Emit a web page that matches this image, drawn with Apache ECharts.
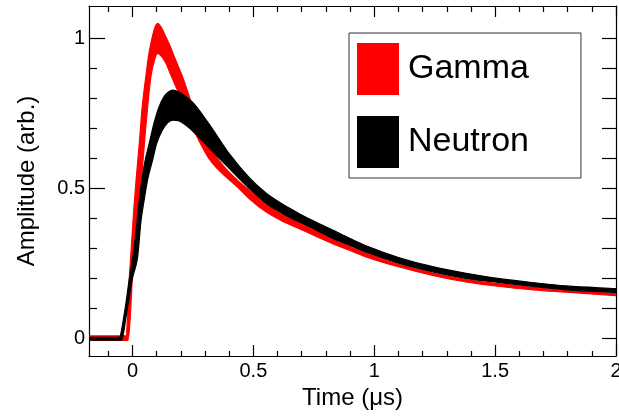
<!DOCTYPE html>
<html><head><meta charset="utf-8">
<script src="https://cdn.jsdelivr.net/npm/echarts@6/dist/echarts.min.js"></script>
<style>html,body{margin:0;padding:0;background:#fff}#c{width:619px;height:416px}</style>
</head><body><div id="c"></div><script>
// ---- data (time in microseconds, amplitude arbitrary) ----
const gammaUpperT = [-0.18, -0.027, -0.014, 0.004, 0.014, 0.028, 0.04, 0.055, 0.066, 0.076, 0.09, 0.104, 0.12, 0.138, 0.155, 0.173, 0.19, 0.207, 0.235, 0.262, 0.29, 0.33, 0.386, 0.434, 0.483, 0.552, 0.62, 0.69, 0.76, 0.828, 0.9, 0.966, 1.104, 1.242, 1.38, 1.518, 1.656, 1.794, 2.0];
const gammaUpperV = [0.007, 0.007, 0.19, 0.415, 0.52, 0.649, 0.77, 0.872, 0.94, 0.983, 1.03, 1.05, 1.035, 1.005, 0.975, 0.939, 0.905, 0.872, 0.805, 0.74, 0.685, 0.625, 0.565, 0.527, 0.493, 0.446, 0.412, 0.384, 0.356, 0.329, 0.305, 0.284, 0.245, 0.217, 0.195, 0.181, 0.169, 0.158, 0.149];
const gammaLowerT = [-0.18, -0.018, 0.003, 0.021, 0.04, 0.055, 0.066, 0.076, 0.09, 0.104, 0.12, 0.138, 0.16, 0.18, 0.2, 0.221, 0.24, 0.262, 0.29, 0.317, 0.35, 0.386, 0.434, 0.483, 0.552, 0.62, 0.69, 0.76, 0.828, 0.9, 0.966, 1.104, 1.242, 1.38, 1.518, 1.656, 1.794, 2.0];
const gammaLowerV = [-0.008, -0.008, 0.25, 0.42, 0.56, 0.705, 0.8, 0.872, 0.925, 0.95, 0.94, 0.917, 0.875, 0.838, 0.805, 0.772, 0.722, 0.68, 0.635, 0.598, 0.566, 0.538, 0.504, 0.465, 0.421, 0.39, 0.365, 0.339, 0.315, 0.292, 0.271, 0.237, 0.209, 0.187, 0.172, 0.161, 0.153, 0.141];

const neutronUpperT = [-0.18, -0.055, -0.034, -0.014, 0.007, 0.028, 0.048, 0.069, 0.09, 0.11, 0.13, 0.15, 0.166, 0.19, 0.221, 0.25, 0.276, 0.331, 0.40, 0.483, 0.552, 0.62, 0.69, 0.76, 0.828, 0.9, 0.966, 1.104, 1.242, 1.38, 1.518, 1.656, 1.794, 2.0];
const neutronUpperV = [0.002, 0.002, 0.081, 0.193, 0.304, 0.46, 0.575, 0.649, 0.72, 0.772, 0.805, 0.822, 0.827, 0.822, 0.805, 0.785, 0.76, 0.697, 0.615, 0.535, 0.484, 0.447, 0.415, 0.386, 0.36, 0.332, 0.308, 0.268, 0.238, 0.216, 0.198, 0.185, 0.174, 0.165];
const neutronLowerT = [-0.18, -0.045, -0.025, 0.0, 0.021, 0.035, 0.048, 0.062, 0.083, 0.1, 0.124, 0.145, 0.166, 0.19, 0.221, 0.255, 0.29, 0.359, 0.40, 0.483, 0.552, 0.62, 0.69, 0.76, 0.828, 0.9, 0.966, 1.104, 1.242, 1.38, 1.518, 1.656, 1.794, 2.0];
const neutronLowerV = [-0.007, -0.007, 0.08, 0.2, 0.27, 0.39, 0.46, 0.527, 0.594, 0.65, 0.694, 0.718, 0.727, 0.725, 0.71, 0.686, 0.657, 0.6, 0.566, 0.499, 0.45, 0.416, 0.387, 0.36, 0.332, 0.309, 0.287, 0.249, 0.221, 0.199, 0.185, 0.172, 0.161, 0.152];

const seriesNames = ['Gamma', 'Neutron'];
const xMajorTicks = [0, 0.5, 1, 1.5, 2];
const xMinorTicks = [-0.1, 0.1, 0.2, 0.3, 0.4, 0.6, 0.7, 0.8, 0.9, 1.1, 1.2, 1.3, 1.4, 1.6, 1.7, 1.8, 1.9];
const yMajorTicks = [0, 0.5, 1];
const yMinorTicks = [0.1, 0.2, 0.3, 0.4, 0.6, 0.7, 0.8, 0.9];
const yRightTicks = [0, 0.1, 0.2, 0.3, 0.4, 0.5, 0.6, 0.7, 0.8, 0.9, 1.0];

// ---- chart ----
const FONT = 'Liberation Sans, Arial, Helvetica, sans-serif';
const X_MIN = -0.18, X_MAX = 2, Y_MIN = -0.06, Y_MAX = 1.108;
const chart = echarts.init(document.getElementById('c'), null, {renderer: 'canvas'});

// monotone cubic (Fritsch-Carlson) bezier segments through pixel points with increasing x
function monoSegments(p) {
  const n = p.length, d = [], m = [];
  for (let i = 0; i < n - 1; i++) d.push((p[i + 1][1] - p[i][1]) / (p[i + 1][0] - p[i][0]));
  m[0] = d[0]; m[n - 1] = d[n - 2];
  for (let i = 1; i < n - 1; i++) m[i] = (d[i - 1] * d[i] <= 0) ? 0 : (d[i - 1] + d[i]) / 2;
  for (let i = 0; i < n - 1; i++) {
    if (d[i] === 0) { m[i] = 0; m[i + 1] = 0; continue; }
    const a = m[i] / d[i], b = m[i + 1] / d[i], s = a * a + b * b;
    if (s > 9) { const t = 3 / Math.sqrt(s); m[i] = t * a * d[i]; m[i + 1] = t * b * d[i]; }
  }
  const segs = [];
  for (let i = 0; i < n - 1; i++) {
    const h = (p[i + 1][0] - p[i][0]) / 3;
    segs.push([p[i], [p[i][0] + h, p[i][1] + m[i] * h], [p[i + 1][0] - h, p[i + 1][1] - m[i + 1] * h], p[i + 1]]);
  }
  return segs;
}
function f(v) { return v.toFixed(2); }
function band(upT, upV, loT, loV, color) {
  return function (params, api) {
    const up = upT.map((t, i) => api.coord([t, upV[i]]));
    const lo = loT.map((t, i) => api.coord([t, loV[i]]));
    const su = monoSegments(up), sl = monoSegments(lo);
    let d = 'M' + f(up[0][0]) + ',' + f(up[0][1]);
    su.forEach(s => { d += 'C' + f(s[1][0]) + ',' + f(s[1][1]) + ' ' + f(s[2][0]) + ',' + f(s[2][1]) + ' ' + f(s[3][0]) + ',' + f(s[3][1]); });
    const last = lo[lo.length - 1];
    d += 'L' + f(last[0]) + ',' + f(last[1]);
    for (let k = sl.length - 1; k >= 0; k--) {
      const s = sl[k];
      d += 'C' + f(s[2][0]) + ',' + f(s[2][1]) + ' ' + f(s[1][0]) + ',' + f(s[1][1]) + ' ' + f(s[0][0]) + ',' + f(s[0][1]);
    }
    d += 'Z';
    return {type: 'path', shape: {pathData: d, layout: 'cover'},
      style: {fill: color, stroke: color, lineWidth: 1.2, lineJoin: 'round'}};
  };
}

const lineStyle = {color: '#000', width: 1.2};
function xAx(pos, ticks, len, showLine, labels, extra) {
  return Object.assign({
    type: 'value', min: X_MIN, max: X_MAX, position: pos,
    axisLine: {show: showLine, onZero: false, lineStyle},
    axisTick: {show: true, inside: true, length: len, customValues: ticks, lineStyle},
    axisLabel: labels ? {show: true, customValues: ticks, fontSize: 20, color: '#000', fontFamily: FONT, margin: 5,
      showMinLabel: true, showMaxLabel: true, hideOverlap: false} : {show: false},
    splitLine: {show: false}
  }, extra || {});
}
function yAx(pos, ticks, len, showLine, labels, extra) {
  return Object.assign({
    type: 'value', min: Y_MIN, max: Y_MAX, position: pos,
    axisLine: {show: showLine, onZero: false, lineStyle},
    axisTick: {show: true, inside: true, length: len, customValues: ticks, lineStyle},
    axisLabel: labels ? {show: true, customValues: ticks, fontSize: 20, color: '#000', fontFamily: FONT, margin: 4} : {show: false},
    splitLine: {show: false}
  }, extra || {});
}

chart.setOption({
  animation: false,
  backgroundColor: '#fff',
  grid: {left: 89, right: 3, top: 6, bottom: 60, containLabel: false, outerBoundsMode: 'none'},
  xAxis: [
    xAx('bottom', xMajorTicks, 11, true, true, {name: 'Time (\u03bcs)', nameLocation: 'middle', nameGap: 27,
      nameTextStyle: {fontSize: 24, color: '#000', fontFamily: FONT}}),
    xAx('bottom', xMinorTicks, 5, false, false),
    xAx('top', xMajorTicks, 11, true, false),
    xAx('top', xMinorTicks, 6, false, false)
  ],
  yAxis: [
    yAx('left', yMajorTicks, 16, true, true, {name: 'Amplitude (arb.)', nameLocation: 'middle', nameGap: 50, nameRotate: 90,
      nameTextStyle: {fontSize: 24, color: '#000', fontFamily: FONT}}),
    yAx('left', yMinorTicks, 8, false, false),
    yAx('right', yRightTicks, 14, true, false)
  ],
  legend: {
    orient: 'vertical', left: 349, top: 33,
    padding: [10, 52, 10, 8],
    itemWidth: 42, itemHeight: 52, itemGap: 21,
    borderColor: '#333', borderWidth: 1, backgroundColor: '#fff',
    textStyle: {fontSize: 34, color: '#000', fontFamily: FONT, padding: [0, 0, 0, 4]},
    data: [
      {name: seriesNames[0], icon: 'rect', itemStyle: {color: '#ff0000', borderWidth: 0}},
      {name: seriesNames[1], icon: 'rect', itemStyle: {color: '#000000', borderWidth: 0}}
    ],
    selectedMode: false
  },
  series: [
    {type: 'custom', name: seriesNames[0], xAxisIndex: 0, yAxisIndex: 0, data: [[0, 0]], itemStyle: {color: '#ff0000'},
     renderItem: band(gammaUpperT, gammaUpperV, gammaLowerT, gammaLowerV, '#ff0000'), silent: true, clip: true, z: 2},
    {type: 'custom', name: seriesNames[1], xAxisIndex: 0, yAxisIndex: 0, data: [[0, 0]], itemStyle: {color: '#000000'},
     renderItem: band(neutronUpperT, neutronUpperV, neutronLowerT, neutronLowerV, '#000000'), silent: true, clip: true, z: 3}
  ]
});
</script></body></html>
